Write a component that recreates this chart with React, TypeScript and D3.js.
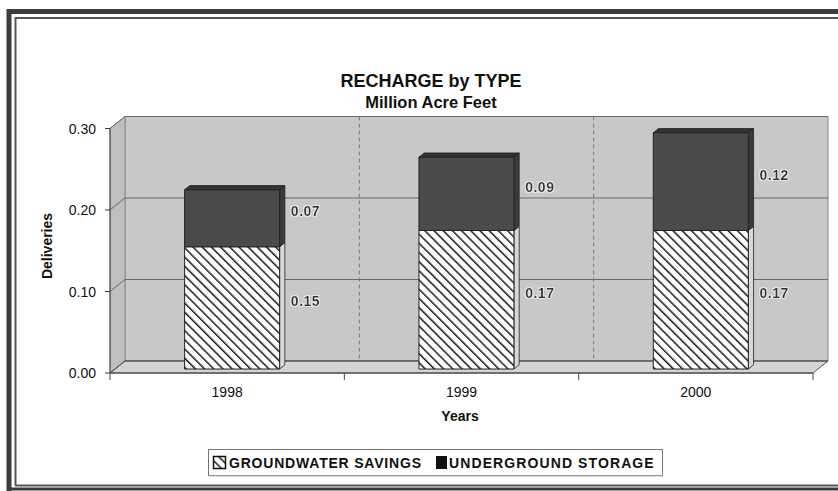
import React from "react";
import * as d3 from "d3";

// chart values
const years = ["1998", "1999", "2000"];
const groundwaterSavings = [0.15, 0.17, 0.17];
const undergroundStorage = [0.07, 0.09, 0.12];
const yTicks = [0, 0.1, 0.2, 0.3];

const W = 838;
const H = 491;
const font = "'Liberation Sans', Arial, sans-serif";

// 3D depth of the plot box (back wall offset)
const DX = 15;
const DY = -12;

const App = () => {
  const left = 110;
  const right = 813;
  const y = d3.scaleLinear().domain([0, 0.3]).range([373, 128.5]);
  const x = d3.scaleBand().domain(years).range([left, right]).paddingInner(0).paddingOuter(0);

  const barW = 95;
  const f0 = 0.33; // bar front depth fraction
  const f1 = 0.68; // bar back depth fraction

  const pt = (px: number, py: number, f: number) => [px + DX * f, py + DY * f];
  const poly = (pts: number[][]) => pts.map((p) => p.join(",")).join(" ");

  const top = y(0.3);
  const base = y(0);

  const wallFill = "#c8c8c8";
  const sideFill = "#bfbfbf";
  const floorFill = "#d4d4d4";
  const darkFill = "#4b4b4b";

  const bars = years.map((yr, i) => {
    const cx = x(yr)! + x.bandwidth() / 2;
    const segs = [
      { v0: 0, v1: groundwaterSavings[i], fill: "url(#hatch)", side: "#d8d8d8", label: groundwaterSavings[i] },
      {
        v0: groundwaterSavings[i],
        v1: groundwaterSavings[i] + undergroundStorage[i],
        fill: darkFill,
        side: "#3a3a3a",
        label: undergroundStorage[i],
      },
    ];
    return { cx, segs };
  });

  return (
    <svg width={W} height={H} style={{ display: "block", position: "absolute", left: 0, top: 0 }}>
      <defs>
        <pattern id="hatch" patternUnits="userSpaceOnUse" width="6.5" height="6.5" patternTransform="rotate(-45)">
          <rect width="6.5" height="6.5" fill="#ffffff" />
          <line x1="0" y1="0" x2="0" y2="6.5" stroke="#1a1a1a" strokeWidth="3" />
        </pattern>
        <filter id="glow" x="-20%" y="-20%" width="140%" height="140%">
          <feMorphology in="SourceAlpha" operator="dilate" radius="1" result="d" />
          <feFlood floodColor="#e6e6e6" />
          <feComposite in2="d" operator="in" result="halo" />
          <feMerge>
            <feMergeNode in="halo" />
            <feMergeNode in="SourceGraphic" />
          </feMerge>
        </filter>
      </defs>

      <rect width={W} height={H} fill="#ffffff" />

      {/* frame */}
      <path d={`M9,${H} V11.5 H${W}`} fill="none" stroke="#3c3c3c" strokeWidth="5" />
      <path d={`M15.5,485.5 V18 H${W}`} fill="none" stroke="#555" strokeWidth="2" />
      <line x1="15" x2={W} y1="485.5" y2="485.5" stroke="#555" strokeWidth="2" />
      <line x1="9" x2={W} y1="489" y2="489" stroke="#3c3c3c" strokeWidth="3" />

      {/* title */}
      <text x={431} y={87} textAnchor="middle" fontFamily={font} fontWeight="bold" fontSize="18" fill="#111">
        RECHARGE  by  TYPE
      </text>
      <text x={431} y={108} textAnchor="middle" fontFamily={font} fontWeight="bold" fontSize="16.5" fill="#111">
        Million  Acre Feet
      </text>

      {/* back wall */}
      <polygon
        points={poly([pt(left, top, 1), pt(right, top, 1), pt(right, base, 1), pt(left, base, 1)])}
        fill={wallFill}
        stroke="#888"
        strokeWidth="1"
      />
      {/* side wall */}
      <polygon
        points={poly([[left, top], pt(left, top, 1), pt(left, base, 1), [left, base]])}
        fill={sideFill}
        stroke="#888"
        strokeWidth="1"
      />
      {/* floor */}
      <polygon
        points={poly([[left, base], [right, base], pt(right, base, 1), pt(left, base, 1)])}
        fill={floorFill}
        stroke="#555"
        strokeWidth="1"
      />

      {/* gridlines */}
      {yTicks.map((t) => (
        <g key={t}>
          <polyline
            points={poly([[left, y(t)], pt(left, y(t), 1), pt(right, y(t), 1)])}
            fill="none"
            stroke={t === 0 ? "#555" : "#6a6a6a"}
            strokeWidth="1"
          />
          <line x1={left - 5} x2={left} y1={y(t)} y2={y(t)} stroke="#333" />
          <text x={left - 14} y={y(t) + 5} textAnchor="end" fontFamily={font} fontSize="14" fill="#111">
            {t.toFixed(2)}
          </text>
        </g>
      ))}
      {[1, 2].map((k) => {
        const gx = left + x.step() * k;
        const [bx, by] = pt(gx, top, 1);
        const [, bb] = pt(gx, base, 1);
        return <line key={k} x1={bx} x2={bx} y1={by} y2={bb} stroke="#7a7a7a" strokeDasharray="4,3" strokeWidth="1" />;
      })}

      {/* front axis line */}
      <line x1={left} x2={left} y1={top} y2={base} stroke="#444" />
      <line x1={left} x2={right} y1={base} y2={base} stroke="#444" />
      {[0, 1, 2, 3].map((k) => {
        const gx = left + x.step() * k;
        return <line key={k} x1={gx} x2={gx} y1={base} y2={base + 7} stroke="#444" />;
      })}

      {/* bars */}
      {bars.map((b, i) => (
        <g key={years[i]}>
          {b.segs.map((s, j) => {
            const xl = b.cx - barW / 2;
            const xr = b.cx + barW / 2;
            const yt = y(s.v1);
            const yb = y(s.v0);
            const [fx, fy] = [DX * f0, DY * f0];
            const d = f1 - f0;
            const front = [
              [xl + fx, yt + fy],
              [xr + fx, yt + fy],
              [xr + fx, yb + fy],
              [xl + fx, yb + fy],
            ];
            const side = [
              [xr + fx, yt + fy],
              [xr + fx + DX * d, yt + fy + DY * d],
              [xr + fx + DX * d, yb + fy + DY * d],
              [xr + fx, yb + fy],
            ];
            const cap = [
              [xl + fx, yt + fy],
              [xl + fx + DX * d, yt + fy + DY * d],
              [xr + fx + DX * d, yt + fy + DY * d],
              [xr + fx, yt + fy],
            ];
            const ly = (yt + yb) / 2 + fy - 2;
            return (
              <g key={j}>
                <polygon points={poly(side)} fill={s.side} stroke="#222" strokeWidth="0.8" />
                <polygon points={poly(front)} fill={s.fill} stroke="#222" strokeWidth="1" />
                {j === 1 && <polygon points={poly(cap)} fill="#333" stroke="#222" strokeWidth="0.8" />}
                <text
                  x={xr + fx + DX * d + 6}
                  y={ly}
                  fontFamily={font}
                  fontWeight="bold"
                  fontSize="14"
                  letterSpacing="0.5"
                  fill="#333"
                  filter="url(#glow)"
                >
                  {s.label.toFixed(2)}
                </text>
              </g>
            );
          })}
        </g>
      ))}

      {/* category labels */}
      {years.map((yr) => (
        <text key={yr} x={x(yr)! + x.bandwidth() / 2} y={397} textAnchor="middle" fontFamily={font} fontSize="14" fill="#111">
          {yr}
        </text>
      ))}

      {/* axis titles */}
      <text x={460} y={421} textAnchor="middle" fontFamily={font} fontWeight="bold" fontSize="14" fill="#111">
        Years
      </text>
      <text
        transform="translate(52,246) rotate(-90)"
        textAnchor="middle"
        fontFamily={font}
        fontWeight="bold"
        fontSize="14"
        fill="#111"
      >
        Deliveries
      </text>

      {/* legend */}
      <rect x={208.5} y={449.5} width={454} height={26} fill="#fff" stroke="#777" strokeWidth="1" />
      <line x1={209} x2={663} y1={476} y2={476} stroke="#bbb" />
      <rect x={213.5} y={456.5} width={12} height={12} fill="url(#hatch)" stroke="#111" strokeWidth="1.5" />
      <text x={229} y={468} fontFamily={font} fontWeight="bold" fontSize="14" fill="#111" letterSpacing="0.8">
        GROUNDWATER SAVINGS
      </text>
      <rect x={436} y={456} width={11} height={13} fill="#111" />
      <text x={449} y={468} fontFamily={font} fontWeight="bold" fontSize="14" fill="#111" letterSpacing="1.1">
        UNDERGROUND STORAGE
      </text>
    </svg>
  );
};

export default App;
